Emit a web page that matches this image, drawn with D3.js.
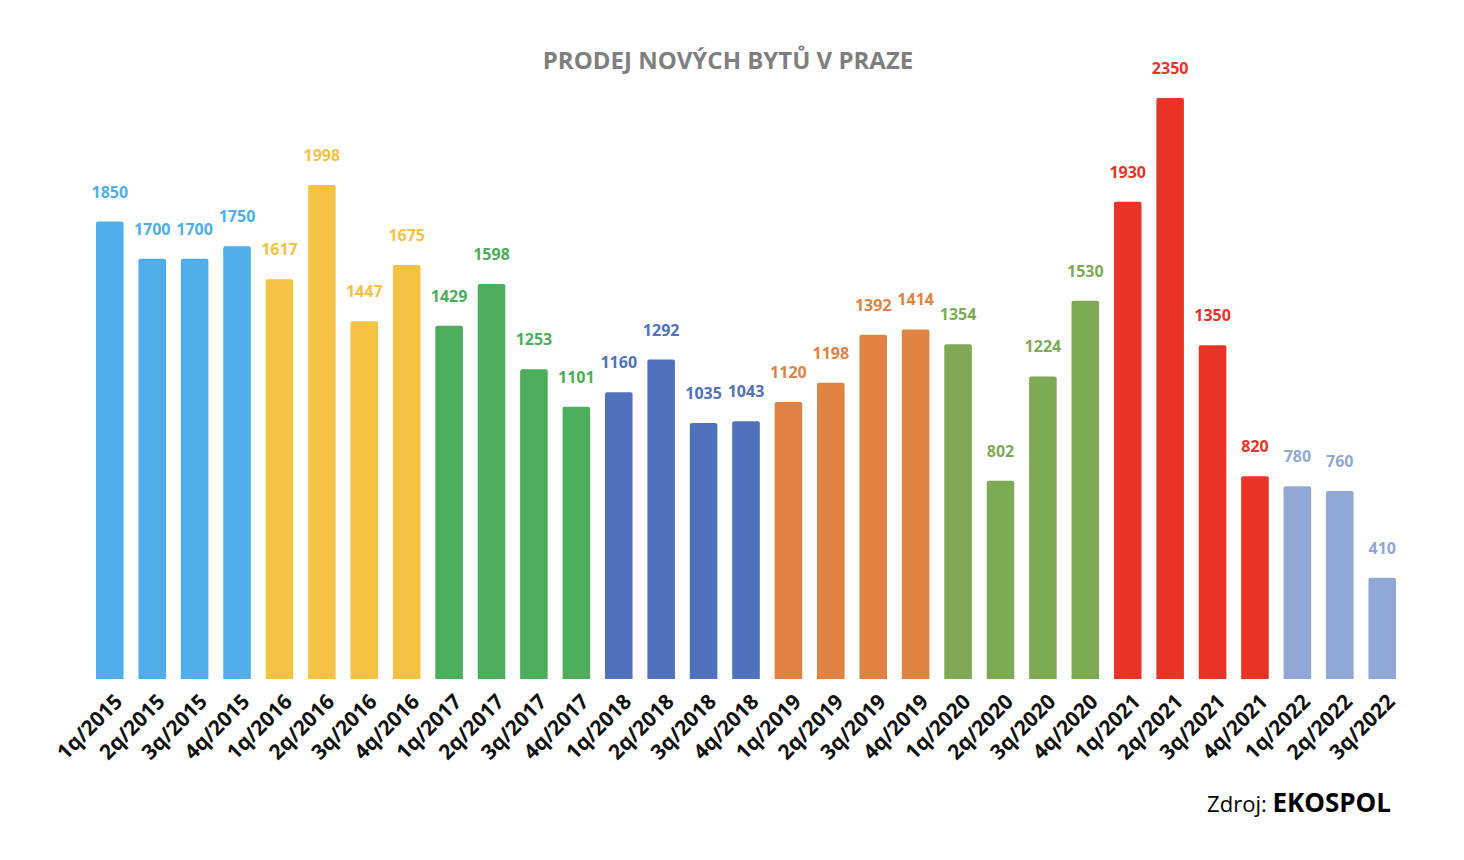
<html>
<head>
<script src="https://cdn.jsdelivr.net/npm/d3@7"></script>
<style>
  body { margin: 0; background: #fff; }
  text { font-family: "Open Sans", "Noto Sans", sans-serif; }
</style>
</head>
<body>
<svg id="svg" width="1464" height="860"></svg>
<script>
var quarters = ["1q/2015","2q/2015","3q/2015","4q/2015","1q/2016","2q/2016","3q/2016","4q/2016",
  "1q/2017","2q/2017","3q/2017","4q/2017","1q/2018","2q/2018","3q/2018","4q/2018",
  "1q/2019","2q/2019","3q/2019","4q/2019","1q/2020","2q/2020","3q/2020","4q/2020",
  "1q/2021","2q/2021","3q/2021","4q/2021","1q/2022","2q/2022","3q/2022"];
var sales = [1850,1700,1700,1750,1617,1998,1447,1675,1429,1598,1253,1101,1160,1292,1035,1043,
  1120,1198,1392,1414,1354,802,1224,1530,1930,2350,1350,820,780,760,410];
var years = ["2015","2016","2017","2018","2019","2020","2021","2022"];
var yearColors = ["#4faeea","#f5c243","#4cae5c","#4f71be","#e08243","#7eaa55","#e83326","#91a8d6"];

var svg = d3.select("svg");
var plotLeft = 96, plotRight = 1396, baseline = 679, plotTop = 98;

var x = d3.scaleBand().domain(quarters).range([plotLeft, plotRight]).paddingInner(0.35).paddingOuter(0);
var y = d3.scaleLinear().domain([0, 2350]).range([baseline, plotTop]);
var color = d3.scaleOrdinal().domain(years).range(yearColors);

function yearOf(q){ return q.split("/")[1]; }

svg.append("text")
  .attr("x", 728).attr("y", 69)
  .attr("text-anchor", "middle")
  .attr("font-size", 24).attr("font-weight", "bold")
  .attr("fill", "#7f7f7f")
  .text("PRODEJ NOVÝCH BYTŮ V PRAZE");

var g = svg.append("g");
g.selectAll("path.bar").data(quarters).enter().append("path")
  .attr("class", "bar")
  .attr("fill", function(d){ return color(yearOf(d)); })
  .attr("d", function(d, i){
    var x0 = x(d), w = x.bandwidth(), y0 = y(sales[i]), r = 2;
    return "M" + x0 + "," + baseline + "V" + (y0 + r) + "Q" + x0 + "," + y0 + " " + (x0 + r) + "," + y0 +
      "H" + (x0 + w - r) + "Q" + (x0 + w) + "," + y0 + " " + (x0 + w) + "," + (y0 + r) + "V" + baseline + "Z";
  });

g.selectAll("text.val").data(quarters).enter().append("text")
  .attr("class", "val")
  .attr("x", function(d){ return x(d) + x.bandwidth() / 2; })
  .attr("y", function(d, i){ return y(sales[i]) - 24; })
  .attr("text-anchor", "middle")
  .attr("font-size", 16).attr("font-weight", "bold")
  .attr("fill", function(d){ return color(yearOf(d)); })
  .text(function(d, i){ return sales[i]; });

var axis = d3.axisBottom(x).tickSize(0).tickPadding(0);
var ax = svg.append("g").attr("transform", "translate(0," + baseline + ")").call(axis);
ax.select(".domain").remove();
ax.selectAll("text")
  .attr("font-family", "'Open Sans', 'Noto Sans', sans-serif")
  .attr("font-size", 21).attr("font-weight", "bold").attr("fill", "#111")
  .attr("text-anchor", "end")
  .attr("dy", null).attr("y", 0)
  .attr("transform", "translate(14,24) rotate(-45)");

var src = svg.append("text")
  .attr("x", 1391).attr("y", 812)
  .attr("text-anchor", "end")
  .attr("fill", "#000");
src.append("tspan").attr("font-size", 22).text("Zdroj: ");
src.append("tspan").attr("font-size", 26).attr("font-weight", "bold").text("EKOSPOL");
</script>
</body>
</html>
